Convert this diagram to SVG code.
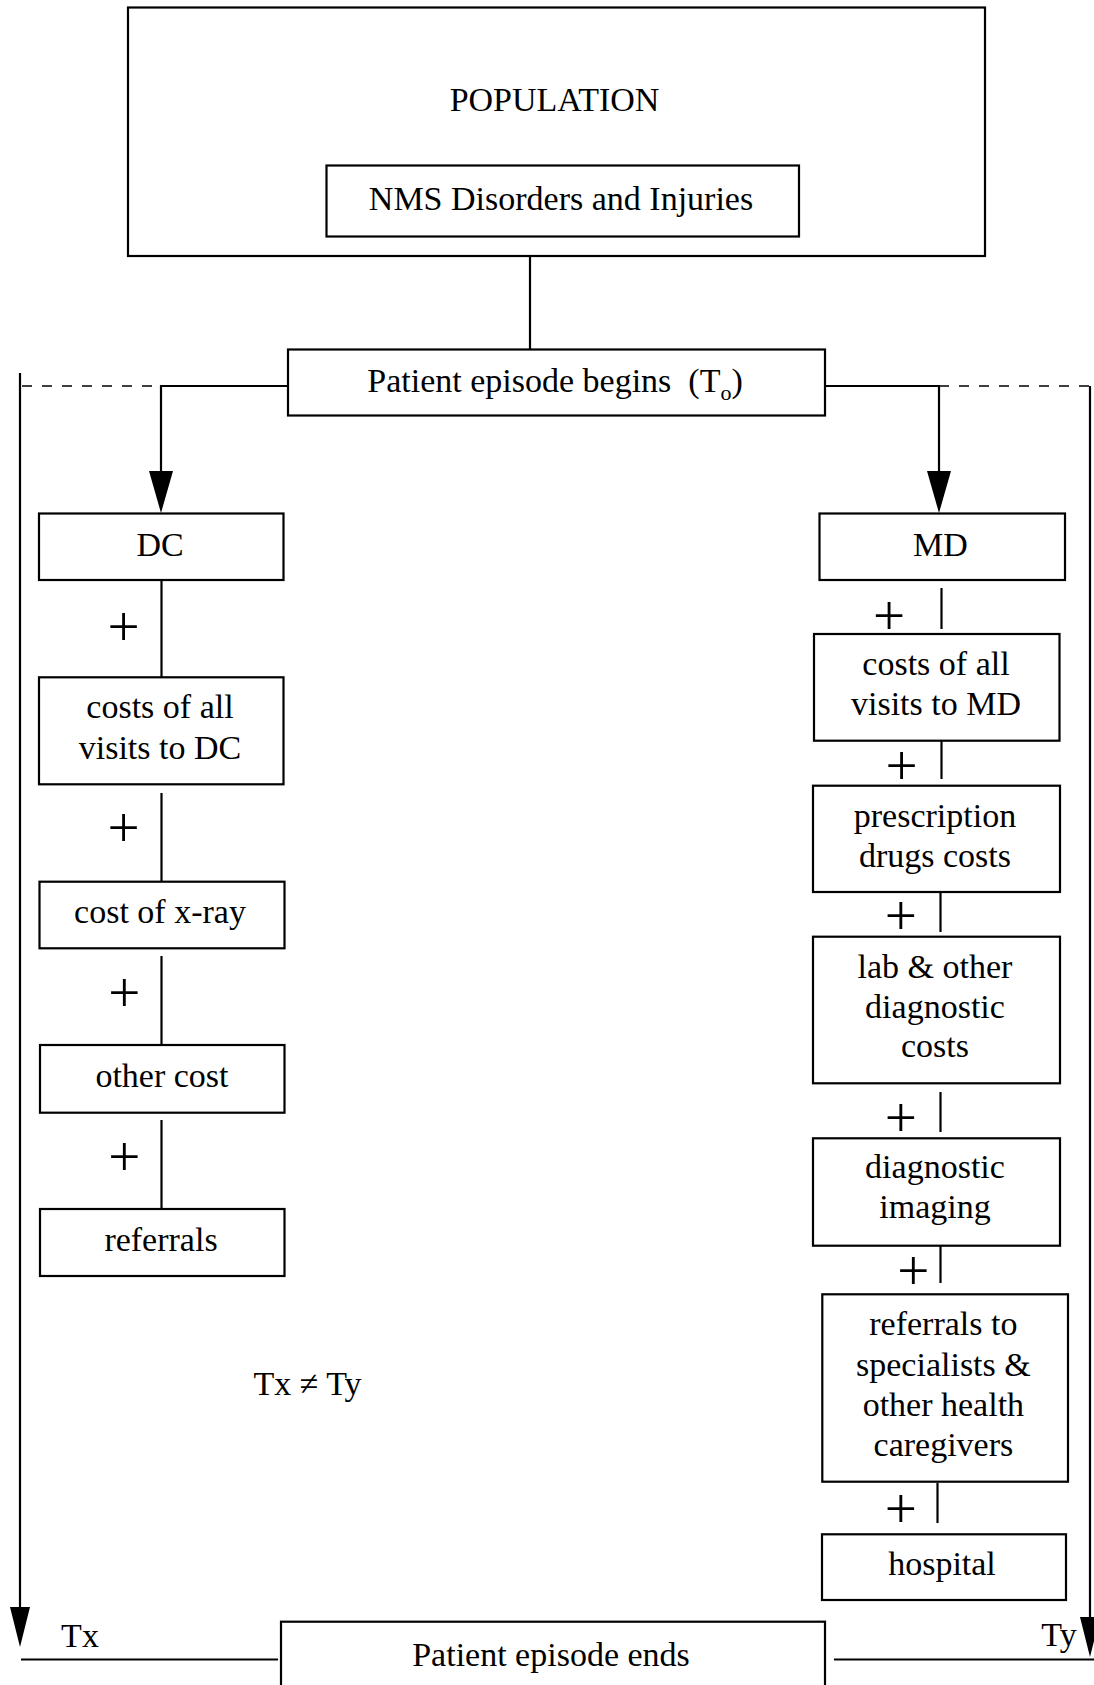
<svg xmlns="http://www.w3.org/2000/svg" width="1094" height="1685" viewBox="0 0 1094 1685">
<defs>
<style>
.box{fill:#fff;stroke:#000;stroke-width:2.2}
.ln{fill:none;stroke:#000;stroke-width:2.2}
.dash{fill:none;stroke:#000;stroke-width:1.3;stroke-dasharray:10 10}
.t{font-family:"Liberation Serif","Times New Roman",serif;font-size:34px;fill:#000;text-anchor:middle}
.p{font-family:"Liberation Serif","Times New Roman",serif;font-size:57px;fill:#000;text-anchor:middle}
.ah{fill:#000;stroke:none}
</style>
</defs>
<rect width="1094" height="1685" fill="#fff"/>

<g id="connectors">
<line class="ln" x1="530" y1="256" x2="530" y2="350"/>
<polyline class="ln" points="288,386 161,386 161,475"/>
<polygon class="ah" points="149,471 173,471 161,513"/>
<polyline class="ln" points="825,386 939,386 939,475"/>
<polygon class="ah" points="927,471 951,471 939,513"/>
<line class="dash" x1="22" y1="386" x2="161" y2="386"/>
<line class="dash" x1="939" y1="386" x2="1090" y2="386"/>
<line class="ln" x1="20" y1="373" x2="20" y2="1612"/>
<polygon class="ah" points="10,1607 30,1607 20,1647"/>
<line class="ln" x1="1090" y1="386" x2="1090" y2="1622"/>
<polygon class="ah" points="1080,1617 1100,1617 1090,1657"/>
<line class="ln" x1="21" y1="1659.5" x2="278" y2="1659.5"/>
<line class="ln" x1="834" y1="1659.5" x2="1094" y2="1659.5"/>
<line class="ln" x1="161.5" y1="580" x2="161.5" y2="677"/>
<line class="ln" x1="161.5" y1="793" x2="161.5" y2="882"/>
<line class="ln" x1="161.5" y1="956" x2="161.5" y2="1045"/>
<line class="ln" x1="161.5" y1="1120" x2="161.5" y2="1209"/>
<line class="ln" x1="941.5" y1="588" x2="941.5" y2="629"/>
<line class="ln" x1="941.5" y1="739" x2="941.5" y2="779"/>
<line class="ln" x1="940.5" y1="891" x2="940.5" y2="932"/>
<line class="ln" x1="940.5" y1="1092" x2="940.5" y2="1132"/>
<line class="ln" x1="940.5" y1="1243" x2="940.5" y2="1283"/>
<line class="ln" x1="937.5" y1="1483" x2="937.5" y2="1523"/>
<text class="p" x="123.5" y="646">+</text>
<text class="p" x="123.6" y="847">+</text>
<text class="p" x="124.4" y="1011.5">+</text>
<text class="p" x="124.4" y="1176">+</text>
<text class="p" x="889" y="635">+</text>
<text class="p" x="901.5" y="785">+</text>
<text class="p" x="900.8" y="935">+</text>
<text class="p" x="900.8" y="1137">+</text>
<text class="p" x="913.3" y="1290">+</text>
<text class="p" x="900.8" y="1528">+</text>
<text class="t" x="307.5" y="1395">Tx ≠ Ty</text>
<text class="t" x="80" y="1647">Tx</text>
<text class="t" x="1059" y="1646">Ty</text>
</g>

<g id="population">
<rect class="box" x="128" y="7.5" width="857" height="248.5"/>
<text class="t" x="554.5" y="110.5">POPULATION</text>
</g>
<g id="nms">
<rect class="box" x="326.5" y="165.5" width="472.5" height="71"/>
<text class="t" x="561" y="209.8">NMS Disorders and Injuries</text>
</g>
<g id="episode-begins">
<rect class="box" x="288" y="349.5" width="537" height="66"/>
<text class="t" x="555" y="391.5">Patient episode begins&#160; (T<tspan font-size="22" dy="8">o</tspan><tspan dy="-8">)</tspan></text>
</g>
<g id="dc">
<rect class="box" x="39" y="513.5" width="244.5" height="66.5"/>
<text class="t" x="160" y="556">DC</text>
</g>
<g id="dc-visits">
<rect class="box" x="39" y="677.3" width="244.5" height="107"/>
<text class="t" x="160" y="718">costs of all</text>
<text class="t" x="160" y="759">visits to DC</text>
</g>
<g id="dc-xray">
<rect class="box" x="39.5" y="881.7" width="245" height="66.6"/>
<text class="t" x="160" y="923">cost of x-ray</text>
</g>
<g id="dc-other">
<rect class="box" x="40" y="1045" width="244.5" height="67.7"/>
<text class="t" x="162" y="1087">other cost</text>
</g>
<g id="dc-referrals">
<rect class="box" x="40" y="1209" width="244.5" height="67"/>
<text class="t" x="161" y="1251">referrals</text>
</g>
<g id="md">
<rect class="box" x="819.5" y="513.5" width="245.5" height="66.5"/>
<text class="t" x="940.5" y="556">MD</text>
</g>
<g id="md-visits">
<rect class="box" x="814" y="634" width="245.5" height="106.7"/>
<text class="t" x="936" y="675">costs of all</text>
<text class="t" x="936" y="715">visits to MD</text>
</g>
<g id="md-drugs">
<rect class="box" x="813" y="785.7" width="247" height="106.3"/>
<text class="t" x="935" y="826.7">prescription</text>
<text class="t" x="935" y="866.7">drugs costs</text>
</g>
<g id="md-lab">
<rect class="box" x="813" y="936.7" width="247" height="146.6"/>
<text class="t" x="935" y="978.3">lab &amp; other</text>
<text class="t" x="935" y="1017.7">diagnostic</text>
<text class="t" x="935" y="1056.7">costs</text>
</g>
<g id="md-imaging">
<rect class="box" x="813" y="1138.3" width="247" height="107.4"/>
<text class="t" x="935" y="1178.3">diagnostic</text>
<text class="t" x="935" y="1218.3">imaging</text>
</g>
<g id="md-referrals">
<rect class="box" x="822.3" y="1294.3" width="245.7" height="187.4"/>
<text class="t" x="943.4" y="1335">referrals to</text>
<text class="t" x="943.4" y="1376">specialists &amp;</text>
<text class="t" x="943.4" y="1415.5">other health</text>
<text class="t" x="943.4" y="1455.5">caregivers</text>
</g>
<g id="md-hospital">
<rect class="box" x="822" y="1534.3" width="244" height="65.7"/>
<text class="t" x="942" y="1575">hospital</text>
</g>
<g id="episode-ends">
<rect class="box" x="281" y="1621.7" width="544" height="80"/>
<text class="t" x="551" y="1666">Patient episode ends</text>
</g>
</svg>
